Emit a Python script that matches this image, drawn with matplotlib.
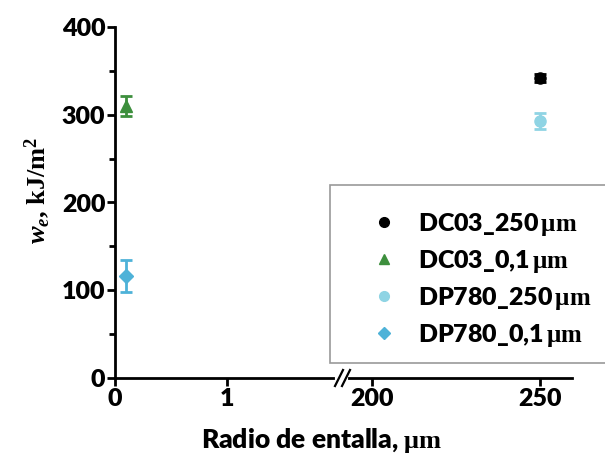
import matplotlib
matplotlib.use("Agg")
import matplotlib.pyplot as plt
from matplotlib.lines import Line2D
from matplotlib.patches import Rectangle
from matplotlib.ticker import MultipleLocator

plt.rcParams['mathtext.fontset'] = 'custom'
plt.rcParams['mathtext.rm'] = 'Liberation Serif:bold'
plt.rcParams['mathtext.it'] = 'Liberation Serif:italic:bold'
plt.rcParams['mathtext.bf'] = 'Liberation Serif:bold'

# Data
series_names = ["DC03_250", "DC03_0,1", "DP780_250", "DP780_0,1"]
radius = [250, 0.1, 250, 0.1]
we_values = [342, 310, 293, 116]
we_errors = [5, 11, 9, 18]
colors = ["#000000", "#3d8f3d", "#8fd4e4", "#4eb2d8"]
markers = ["o", "^", "o", "D"]
msizes = [8, 8, 8, 7]
left_ticks = [0, 1]
right_ticks = [200, 250]
y_ticks = [0, 100, 200, 300, 400]

W, H = 605, 461
fig = plt.figure(figsize=(W / 100, H / 100), dpi=100)

x0, xb, x1 = 115, 342, 572
ybot, ytop = 378, 27
axL = fig.add_axes([x0 / W, 1 - ybot / H, (xb - x0) / W, (ybot - ytop) / H])
axR = fig.add_axes([xb / W, 1 - ybot / H, (x1 - xb) / W, (ybot - ytop) / H], sharey=axL)

TF = dict(family='Lato', weight='heavy', size=18)

for ax in (axL, axR):
    for s in ('top', 'right'):
        ax.spines[s].set_visible(False)
    ax.spines['bottom'].set_linewidth(2)
    ax.spines['left'].set_linewidth(2)
    ax.tick_params(axis='both', direction='out', width=2, length=6, pad=1)
    ax.patch.set_alpha(0)

axR.spines['left'].set_visible(False)
axR.tick_params(axis='y', left=False, labelleft=False)

axL.set_xlim(0, 2.03)
axR.set_xlim(191.1, 259.5)
axL.set_ylim(0, 400)
axL.set_xticks(left_ticks)
axR.set_xticks(right_ticks)
axL.set_yticks(y_ticks)
axL.yaxis.set_minor_locator(MultipleLocator(50))
axL.tick_params(axis='y', which='minor', length=4, width=2)
axR.tick_params(axis='y', which='minor', left=False)
for ax in (axL, axR):
    for lab in ax.get_xticklabels() + ax.get_yticklabels():
        lab.set_fontfamily(TF['family']); lab.set_fontweight(TF['weight']); lab.set_fontsize(TF['size'])

handles = []
for name, x, y, e, c, m, ms in zip(series_names, radius, we_values, we_errors, colors, markers, msizes):
    ax = axL if x < 100 else axR
    ax.errorbar([x], [y], yerr=[e], fmt=m, color=c, ms=ms, capsize=4, elinewidth=2,
                capthick=2, mec=c, clip_on=False, zorder=3)
    handles.append(Line2D([], [], ls='none', marker=m, color=c, ms=ms - 1))

# break marks
fig.add_artist(Line2D([(xb - 5) / W, (xb + 4) / W], [1 - ybot / H] * 2, color='white', lw=3, zorder=5))
for dx in (-3, 4):
    xs = [(xb + dx - 4) / W, (xb + dx + 4) / W]
    ys = [1 - (ybot + 8) / H, 1 - (ybot - 8) / H]
    fig.add_artist(Line2D(xs, ys, color='black', lw=1.6, zorder=6))

# axis labels
fig.text(322 / W, 1 - 440 / H, r"Radio de entalla, $\mathrm{\mu m}$",
         ha='center', va='center', fontfamily='Lato', fontweight='heavy', fontsize=19)
fig.text(37 / W, 1 - 190 / H, r"$w_e$, kJ/m$^2$", rotation=90, ha='center', va='center',
         fontfamily='Liberation Serif', fontweight='bold', fontsize=19)

# legend box
fig.add_artist(Rectangle((330 / W, 1 - 363 / H), (W - 330 + 20) / W, (363 - 185) / H,
                         transform=fig.transFigure, fill=True, facecolor='white',
                         edgecolor='#999999', lw=1.2, zorder=7))
labels = [n + r"$\,\mathrm{\mu m}$" for n in series_names]
leg = fig.legend(handles, labels, loc='upper left', bbox_to_anchor=(371 / W, 1 - 211 / H),
                 frameon=False, prop=dict(family='Lato', weight='heavy', size=18),
                 handlelength=1.0, handletextpad=0.9, labelspacing=0.4, borderpad=0,
                 borderaxespad=0)
leg.set_zorder(8)

fig.savefig("out.png", dpi=100)
